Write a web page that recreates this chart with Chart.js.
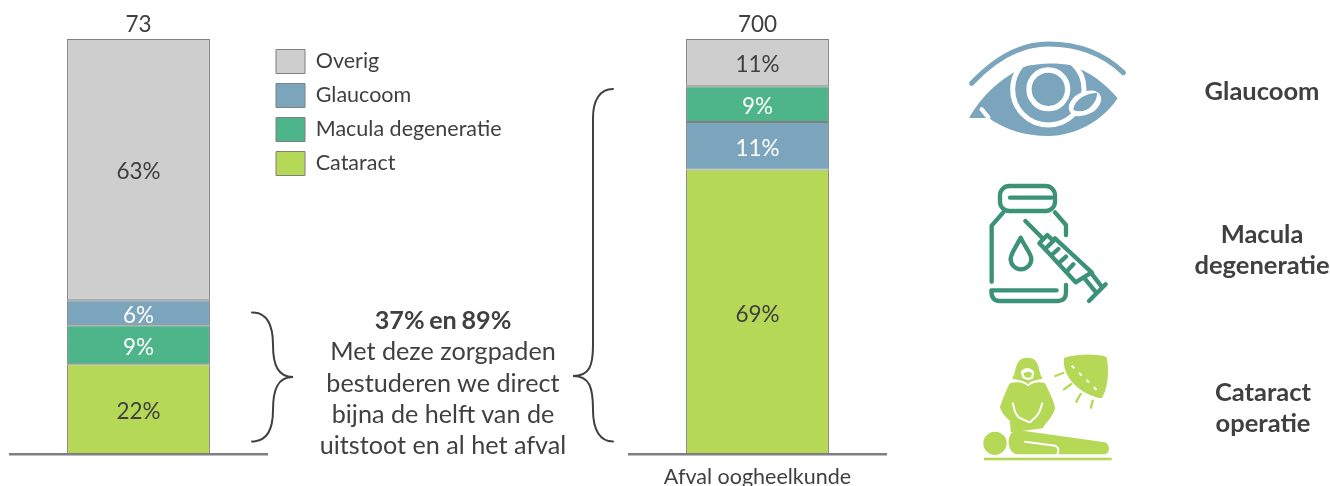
<!DOCTYPE html>
<html><head><meta charset="utf-8">
<script src="https://cdn.jsdelivr.net/npm/chart.js@4/dist/chart.umd.min.js"></script>
<style>
html,body{margin:0;padding:0;background:#fff;width:1330px;height:486px;overflow:hidden}
body{position:relative;font-family:Lato,sans-serif;color:#404040}
canvas{position:absolute;top:0}
svg{position:absolute;left:0;top:0}
.t{position:absolute;text-align:center;white-space:nowrap}
.side{font-weight:700;font-size:25.5px;line-height:31px;color:#404040;transform:translateX(-50%)}
#note{left:443px;top:304px;transform:translateX(-50%);font-size:25.2px;line-height:31.3px}
#note b{font-weight:700;word-spacing:-1.5px}
</style></head><body>
<canvas id="left" width="520" height="486" style="left:0"></canvas>
<canvas id="right" width="277" height="486" style="left:619px"></canvas>

<svg width="1330" height="486" viewBox="0 0 1330 486" fill="none">
  <g stroke="#404040" stroke-width="2" stroke-linecap="round">
    <path d="M252,312.5 C265,312.5 273,322 273,345 C273,365 278,377 293,377 C278,377 273,389 273,410 C273,432 265,441.5 252,441.5"/>
    <path d="M613,89 C600,89 593,100 593,118 V345 C593,365 590,376 573,376 C590,376 593,388 593,410 C593,430 600,441.5 613,441.5"/>
  </g>
  <!-- eye -->
  <g transform="translate(940,30) scale(0.3333)">
    <path d="M95,160 C170,80 250,42 325,42 C410,42 490,70 550,128" stroke="#7AA5BD" stroke-width="15" stroke-linecap="round"/>
    <path fill="#7AA5BD" d="M88,262 C130,190 190,140 250,112 C280,102 350,98 390,105 C450,125 495,160 533,205 C490,270 410,318 325,318 C250,318 190,298 138,258 L138,264 L90,264 Z"/>
    <circle cx="325" cy="178" r="107" stroke="#fff" stroke-width="15"/>
    <path d="M240,70 H420 V104 H240 Z" fill="#fff"/>
    <path fill="#7AA5BD" d="M250,112 C290,98 350,98 390,105 L402,125 L240,125 Z"/>
    <circle cx="325" cy="178" r="58" stroke="#fff" stroke-width="16" fill="#7AA5BD"/>
    <path d="M125,238 L145,262" stroke="#fff" stroke-width="13" stroke-linecap="round"/>
    <ellipse cx="435" cy="220" rx="52" ry="34" transform="rotate(-28 435 220)" fill="#fff"/>
    <path fill="#7AA5BD" d="M400,240 C402,210 435,190 472,188 C470,225 435,255 400,240 Z"/>
  </g>
  <!-- vial and syringe -->
  <g transform="translate(960,175) scale(0.3333)" stroke="#3C9277" stroke-width="13" stroke-linecap="round" stroke-linejoin="round">
    <rect x="120" y="33" width="165" height="75" rx="28"/>
    <path d="M150,68 H275" stroke-width="13"/>
    <path d="M130,112 L95,152 V320"/>
    <path d="M285,112 L318,150 V180"/>
    <path d="M318,330 V352 Q318,378 295,378 H118 Q94,378 94,346 H290"/>
    <path d="M182,188 C165,222 152,236 152,252 A31,31 0 0 0 214,252 C214,236 198,222 182,188 Z"/>
    <path d="M196,138 L250,192"/>
    <path d="M238,205 L262,180 L280,198 L255,222 Z"/>
    <path d="M255,222 L347,322 L395,292 L285,190"/>
    <path d="M275,240 L295,222 M298,263 L318,245 M322,287 L340,268"/>
    <path d="M372,308 L408,352 M392,292 L425,335"/>
    <path d="M387,378 L437,328"/>
  </g>
  <!-- surgeon -->
  <g transform="translate(960,345) scale(0.3333)" fill="#B5D957">
    <path d="M155,100 C172,90 158,38 202,38 C246,38 232,90 250,100 C232,106 215,105 205,118 C192,105 172,106 155,100 Z"/>
    <path d="M182,80 C195,65 210,65 222,80 L220,100 L205,106 L188,100 Z" fill="#fff"/>
    <path d="M190,85 C200,80 210,80 216,85 L214,95 L205,99 L194,95 Z"/>
    <path d="M150,115 C170,108 190,112 205,124 C220,112 235,108 255,115 C270,145 285,175 285,192 C275,220 258,232 248,250 L152,262 L150,228 C135,215 120,195 120,185 C130,160 140,130 150,115 Z"/>
    <path d="M158,175 C165,190 160,205 178,218 L208,232 M247,175 C240,195 240,205 225,218 L210,232" stroke="#fff" stroke-width="6" fill="none" stroke-linecap="round"/>
    <circle cx="105" cy="295" r="35"/>
    <path d="M172,255 L435,292 C452,298 450,328 432,328 L170,328 C140,322 135,262 172,255 Z"/>
    <path d="M195,290 L285,302 C300,310 295,320 292,328" stroke="#fff" stroke-width="6" fill="none" stroke-linecap="round"/>
    <rect x="72" y="338" width="383" height="8"/>
    <path d="M312,38 C360,26 405,26 440,36 C450,90 440,135 425,160 C365,150 305,100 312,38 Z"/>
    <path d="M335,62 L415,140" stroke="#fff" stroke-width="6" stroke-dasharray="11 20" fill="none"/>
    <path d="M286,93 L310,84 M312,133 L334,117 M349,170 L362,147 M393,188 L398,167" stroke="#B5D957" stroke-width="7" stroke-linecap="round" fill="none"/>
  </g>
</svg>

<div class="t" id="note"><b>37% en 89%</b><br>Met deze zorgpaden<br>bestuderen we direct<br>bijna de helft van de<br>uitstoot en al het afval</div>
<div class="t side" style="left:1262px;top:75px">Glaucoom</div>
<div class="t side" style="left:1262px;top:218px">Macula<br>degeneratie</div>
<div class="t side" style="left:1263px;top:376px">Cataract<br>operatie</div>

<script>
const leftCategories = [''];
const rightCategories = ['Afval oogheelkunde'];
const leftSeriesNames = ['Cataract', 'Macula degeneratie', 'Glaucoom', 'Overig'];
const rightSeriesNames = ['Cataract', 'Glaucoom', 'Macula degeneratie', 'Overig'];
const leftValues = [21.7, 9.4, 6.0, 62.9];
const rightValues = [68.6, 11.4, 8.6, 11.4];
const leftTotal = 73;
const rightTotal = 700;

const fill = {'Overig':'#CECECE','Glaucoom':'#7AA5BD','Macula degeneratie':'#4EB48A','Cataract':'#B5D957'};
const ink = {'Overig':'#404040','Glaucoom':'#ffffff','Macula degeneratie':'#ffffff','Cataract':'#404040'};
const FONT = 'Lato, sans-serif';

const labelPlugin = {
  id:'barLabels',
  afterDatasetsDraw(chart){
    const c = chart.ctx; c.save();
    c.font = '22.5px '+FONT; c.textAlign='center'; c.textBaseline='middle';
    chart.data.datasets.forEach((d,i)=>{
      const el = chart.getDatasetMeta(i).data[0];
      c.fillStyle = ink[d.label];
      c.fillText(Math.round(d.data[0])+'%', el.x, (el.y+el.base)/2+2.5);
    });
    const top = chart.getDatasetMeta(chart.data.datasets.length-1).data[0];
    c.fillStyle='#404040';
    c.fillText(String(chart.options.plugins.barLabels.total), top.x, top.y-14.5);
    c.restore();
  }
};
const legendPlace = {
  id:'legendPlace',
  afterLayout(chart){
    const lg = chart.legend;
    if(lg && chart.options.plugins.legend.display){
      lg.left = 266; lg.top = 39.5; lg.right = 520; lg.bottom = 190;
      lg.width = 254; lg.height = 150.5;
    }
  }
};

function build(id, cats, names, vals, total, showLegend, padRight){
  return new Chart(document.getElementById(id),{
    type:'bar',
    data:{labels:cats,datasets:names.map((n,i)=>({
      label:n,data:[vals[i]],backgroundColor:fill[n],borderColor:'#7F7F7F',borderWidth:1,borderSkipped:false,
      barPercentage:0.556,categoryPercentage:1
    }))},
    plugins:[labelPlugin,legendPlace],
    options:{
      responsive:false,animation:false,
      layout:{padding:{top:39,left:10,right:padRight,bottom:0}},
      plugins:{
        tooltip:{enabled:false},title:{display:false},
        barLabels:{total},
        legend:{display:showLegend,position:'chartArea',align:'start',reverse:true,
          labels:{boxWidth:29,boxHeight:24,padding:10,color:'#404040',font:{family:FONT,size:21.5}}}
      },
      scales:{
        x:{stacked:true,grid:{display:false,drawTicks:false},
          border:{display:true,color:'#7F7F7F',width:2.5,z:2},
          ticks:{color:'#404040',font:{family:FONT,size:21.5},padding:10,maxRotation:0,autoSkip:false},
          afterFit(s){s.height=31.5;}},
        y:{stacked:true,display:false,min:0,max:100}
      }
    }
  });
}
build('left',leftCategories,leftSeriesNames,leftValues,leftTotal,true,253);
build('right',rightCategories,rightSeriesNames,rightValues,rightTotal,false,10);
</script>
</body></html>
